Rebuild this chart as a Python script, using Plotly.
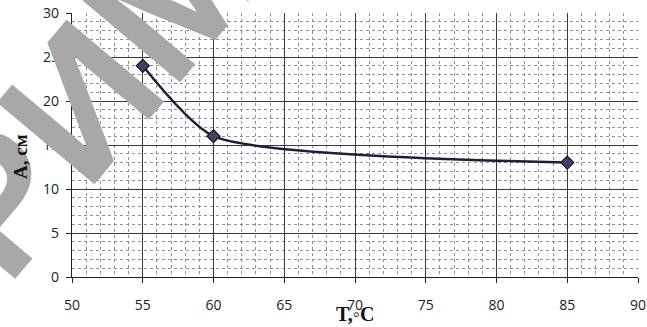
import plotly.graph_objects as go

T = [55, 60, 85]
A = [24, 16, 13]
x_ticks = [50, 55, 60, 65, 70, 75, 80, 85, 90]
y_ticks = [0, 5, 10, 15, 20, 25, 30]

fig = go.Figure()
fig.add_trace(go.Scatter(
    x=T, y=A, mode="lines+markers",
    line=dict(color="#1c1e3a", width=2.5, shape="spline", smoothing=0.6),
    marker=dict(symbol="diamond", size=10, color="#3e4260",
                line=dict(color="#15162b", width=1.2)),
    showlegend=False,
))

axis_common = dict(
    showline=True, linecolor="#222", linewidth=1.2,
    showgrid=True, gridcolor="#3a3a3a", gridwidth=1,
    ticks="outside", ticklen=5, tickcolor="#222",
    zeroline=False, mirror=False, automargin=False,
    tickfont=dict(family="Open Sans, Arial", size=14, color="#222"),
)

fig.update_xaxes(range=[50, 90], tickvals=x_ticks, ticktext=[str(v) for v in x_ticks],
                 minor=dict(dtick=1, tick0=50, showgrid=True, gridcolor="#8e8e9c",
                            griddash="dot", gridwidth=1),
                 ticklabelstandoff=10, **axis_common)
fig.update_yaxes(range=[0, 30], tickvals=y_ticks, ticktext=[str(v) for v in y_ticks],
                 minor=dict(dtick=1, tick0=0, showgrid=True, gridcolor="#8e8e9c",
                            griddash="dot", gridwidth=1),
                 ticklabelstandoff=4, **axis_common)

# watermark
fig.add_annotation(text="<b>РИМ</b>", xref="paper", yref="paper",
                   x=(90 - 72) / 566, y=(277 - 90) / 264,
                   showarrow=False, xanchor="center", yanchor="middle", textangle=-50,
                   font=dict(family="Liberation Sans, Arial", size=185, color="#a8a8a8"))

fig.add_annotation(text="<b>T,◦C</b>", xref="paper", yref="paper", x=0.5, y=0,
                   yshift=-37, showarrow=False, xanchor="center", yanchor="middle",
                   font=dict(family="Liberation Serif, Times New Roman", size=20, color="#111"))
fig.add_annotation(text="<b>А, см</b>", xref="paper", yref="paper", x=0, y=0.5,
                   xshift=-52, yshift=-12, textangle=-90, showarrow=False,
                   xanchor="center", yanchor="middle",
                   font=dict(family="Liberation Serif, Times New Roman", size=19, color="#111"))

fig.update_layout(
    width=647, height=327,
    margin=dict(l=72, r=9, t=13, b=50),
    paper_bgcolor="white", plot_bgcolor="white",
)

fig.write_html("out.html")
